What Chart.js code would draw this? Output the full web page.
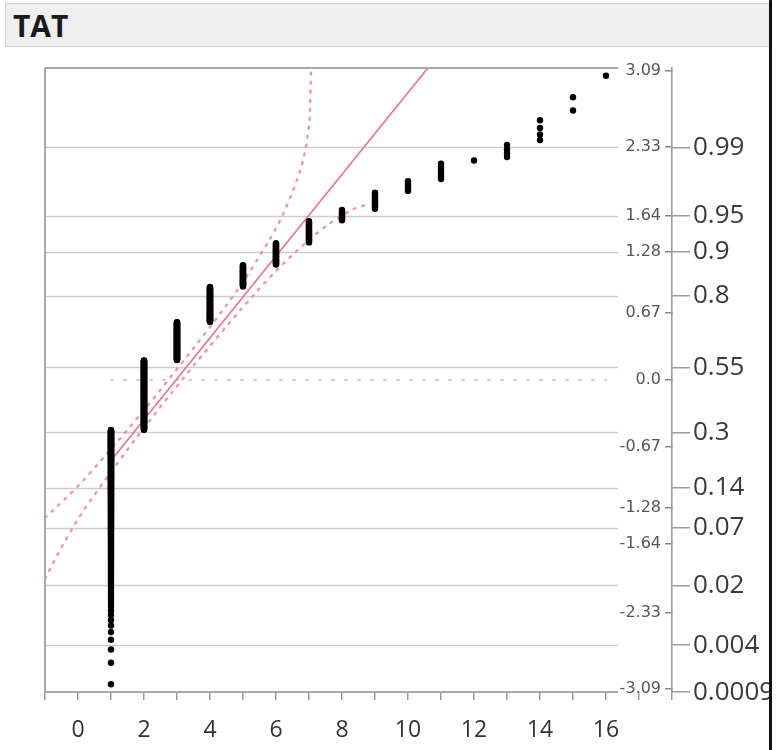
<!DOCTYPE html>
<html>
<head>
<meta charset="utf-8">
<title>TAT</title>
<script src="https://cdn.jsdelivr.net/npm/chart.js@4.4.1/dist/chart.umd.min.js"></script>
<style>
  html, body { margin: 0; padding: 0; background: #fff; }
  #frame { position: relative; width: 769px; height: 750px; overflow: hidden; background: #fff; }
  #titlebar { position: absolute; left: 5px; top: 3px; width: 790px; height: 44px; background: #efefef;
              border: 1px solid #cfcfcf; box-sizing: border-box; }
  #titlebar span { position: absolute; left: 7px; top: 1px; font: bold 30px "Open Sans", sans-serif; color: #1b1b1b; }
  #plot { position: absolute; left: 0; top: 0; }
  #edge { position: absolute; left: 769px; top: 0; width: 3px; height: 750px; background: #111; }
</style>
</head>
<body>
<div id="frame">
  <div id="titlebar"><span>TAT</span></div>
  <canvas id="plot" width="820" height="750"></canvas>
</div>
<div id="edge"></div>
<script>
// Turnaround time values and how many observations fall on each
const tatValues = [1, 2, 3, 4, 5, 6, 7, 8, 9, 10, 11, 12, 13, 14, 15, 16];
const tatCounts = [263, 230, 120, 90, 43, 34, 25, 10, 12, 6, 7, 1, 4, 4, 2, 1];

// Axis labels
const xTickLabels = ['0', '2', '4', '6', '8', '10', '12', '14', '16'];
const quantileTicks = [-3.09, -2.33, -1.64, -1.28, -0.67, 0, 0.67, 1.28, 1.64, 2.33, 3.09];
const quantileLabels = ['-3.09', '-2.33', '-1.64', '-1.28', '-0.67', '0.0', '0.67', '1.28', '1.64', '2.33', '3.09'];
const probValues = [0.0009, 0.004, 0.02, 0.07, 0.14, 0.3, 0.55, 0.8, 0.9, 0.95, 0.99];
const probLabels = ['0.0009', '0.004', '0.02', '0.07', '0.14', '0.3', '0.55', '0.8', '0.9', '0.95', '0.99'];

// Confidence band curves (TAT value, normal quantile)
const upperBandX = [-1, 0, 1, 2, 3, 4, 5, 5.5, 5.94, 6.3, 6.6, 6.82, 6.96, 7.03, 7.06];
const upperBandZ = [-1.38, -1.06, -0.69, -0.30, 0.11, 0.53, 0.98, 1.24, 1.48, 1.72, 1.97, 2.20, 2.45, 2.70, 3.12];
const lowerBandX = [-1, -0.64, 0, 1, 2, 3, 4, 5, 6, 7, 7.6, 8.36, 8.8];
const lowerBandZ = [-1.99, -1.76, -1.39, -0.92, -0.48, -0.06, 0.34, 0.73, 1.09, 1.40, 1.56, 1.71, 1.76];

// Dotted reference line at the zero quantile
const refLineX = [1, 16];
const refLineZ = [0, 0];

// Inverse standard normal CDF (Acklam)
function qnorm(p) {
  const a = [-3.969683028665376e+01, 2.209460984245205e+02, -2.759285104469687e+02, 1.383577518672690e+02, -3.066479806614716e+01, 2.506628277459239e+00];
  const b = [-5.447609879822406e+01, 1.615858368580409e+02, -1.556989798598866e+02, 6.680131188771972e+01, -1.328068155288572e+01];
  const c = [-7.784894002430293e-03, -3.223964580411365e-01, -2.400758277161838e+00, -2.549671010405491e+00, 4.374664141464968e+00, 2.938163982698783e+00];
  const d = [7.784695709041462e-03, 3.224671290700398e-01, 2.445134137142996e+00, 3.754408661907416e+00];
  const pl = 0.02425, ph = 1 - pl;
  let q, r;
  if (p < pl) {
    q = Math.sqrt(-2 * Math.log(p));
    return (((((c[0]*q+c[1])*q+c[2])*q+c[3])*q+c[4])*q+c[5]) / ((((d[0]*q+d[1])*q+d[2])*q+d[3])*q+1);
  }
  if (p <= ph) {
    q = p - 0.5; r = q * q;
    return (((((a[0]*r+a[1])*r+a[2])*r+a[3])*r+a[4])*r+a[5])*q / (((((b[0]*r+b[1])*r+b[2])*r+b[3])*r+b[4])*r+1);
  }
  q = Math.sqrt(-2 * Math.log(1 - p));
  return -(((((c[0]*q+c[1])*q+c[2])*q+c[3])*q+c[4])*q+c[5]) / ((((d[0]*q+d[1])*q+d[2])*q+d[3])*q+1);
}

// Normal quantile of each ranked observation, rank / (n + 1)
const n = tatCounts.reduce((s, c) => s + c, 0);
const quantilePoints = [];
let rank = 0;
tatValues.forEach((v, i) => {
  for (let k = 0; k < tatCounts[i]; k++) {
    rank++;
    quantilePoints.push({ x: v, y: qnorm(rank / (n + 1)) });
  }
});

// Normal fit line from the sample mean and standard deviation
const mean = tatValues.reduce((s, v, i) => s + v * tatCounts[i], 0) / n;
const sd = Math.sqrt(tatValues.reduce((s, v, i) => s + tatCounts[i] * (v - mean) ** 2, 0) / (n - 1));
const fitX = [tatValues[0], tatValues[tatValues.length - 1]];
const fitLine = fitX.map(x => ({ x, y: (x - mean) / sd }));

const pairs = (xs, ys) => xs.map((x, i) => ({ x, y: ys[i] }));

// Width of the quantile label column between the plot frame and its axis line
const LABEL_COLUMN = 54;

const frameAndGrid = {
  id: 'frameAndGrid',
  beforeDatasetsDraw(chart) {
    const { ctx, chartArea: { left, top, right, bottom }, scales } = chart;
    const gridEnd = right - LABEL_COLUMN;
    ctx.save();
    ctx.strokeStyle = '#cdcdcd';
    ctx.lineWidth = 1.6;
    scales.prob.ticks.forEach(t => {
      const y = Math.round(scales.prob.getPixelForValue(t.value)) + 0.5;
      if (y > top + 3 && y < bottom - 3) {
        ctx.beginPath(); ctx.moveTo(left, y); ctx.lineTo(gridEnd, y); ctx.stroke();
      }
    });
    ctx.strokeStyle = '#a9a9a9';
    ctx.lineWidth = 2;
    ctx.beginPath();
    ctx.moveTo(gridEnd, top); ctx.lineTo(left, top); ctx.lineTo(left, bottom); ctx.lineTo(gridEnd, bottom);
    ctx.stroke();
    ctx.restore();
  }
};

const bandStyle = {
  showLine: true, pointRadius: 0, borderWidth: 2.4, borderColor: 'rgba(232,128,146,0.8)',
  borderDash: [2, 7], borderCapStyle: 'round', cubicInterpolationMode: 'monotone', fill: false
};

new Chart(document.getElementById('plot'), {
  type: 'scatter',
  data: {
    datasets: [
      { data: quantilePoints, pointRadius: 3.2, pointBackgroundColor: '#000', pointBorderWidth: 0, showLine: false },
      { data: fitLine, showLine: true, pointRadius: 0, borderColor: 'rgb(240,112,130)', borderWidth: 1.6 },
      Object.assign({ data: pairs(upperBandX, upperBandZ) }, bandStyle),
      Object.assign({ data: pairs(lowerBandX, lowerBandZ) }, bandStyle),
      { data: pairs(refLineX, refLineZ), showLine: true, pointRadius: 0, borderWidth: 2,
        borderColor: 'rgba(190,180,182,0.7)', borderDash: [2, 11], borderCapStyle: 'round' }
    ]
  },
  options: {
    responsive: false,
    animation: false,
    devicePixelRatio: 1,
    layout: { padding: { left: 45, top: 68, right: 0, bottom: 0 } },
    plugins: { legend: { display: false }, tooltip: { enabled: false } },
    scales: {
      x: {
        type: 'linear', min: -1, max: 18,
        afterFit(s) { s.height = 58; },
        border: { display: false },
        grid: { drawOnChartArea: false, drawTicks: true, tickLength: 8, color: '#9c9c9c', lineWidth: 1.5 },
        ticks: {
          stepSize: 1, autoSkip: false, maxRotation: 0, padding: 17, color: '#333',
          font: { family: 'Open Sans', size: 23 },
          callback: v => xTickLabels.includes(String(v)) ? String(v) : ''
        }
      },
      y: {
        type: 'linear', position: 'right', min: -3.12, max: 3.12, weight: 0,
        afterFit(s) { s.width = 0; },
        afterBuildTicks(s) { s.ticks = quantileTicks.map(v => ({ value: v })); },
        border: { display: true, color: '#9c9c9c', width: 1.6 },
        grid: { drawOnChartArea: false, drawTicks: true, tickLength: -7, color: '#888', lineWidth: 1.5 },
        ticks: {
          mirror: true, padding: -11, color: '#555',
          font: { family: 'DejaVu Sans', size: 16 },
          callback: (v, i) => quantileLabels[i]
        }
      },
      prob: {
        type: 'linear', position: 'right', min: -3.12, max: 3.12, weight: 1,
        afterFit(s) { s.width = 148; },
        afterBuildTicks(s) { s.ticks = probValues.map(p => ({ value: qnorm(p) })); },
        border: { display: false },
        grid: { drawOnChartArea: false, drawTicks: true, tickLength: 18, color: '#9c9c9c', lineWidth: 1.5 },
        ticks: {
          padding: 3, color: '#3a3a3a',
          font: { family: 'Open Sans', size: 26 },
          callback: (v, i) => probLabels[i]
        }
      }
    }
  },
  plugins: [frameAndGrid]
});
</script>
</body>
</html>
